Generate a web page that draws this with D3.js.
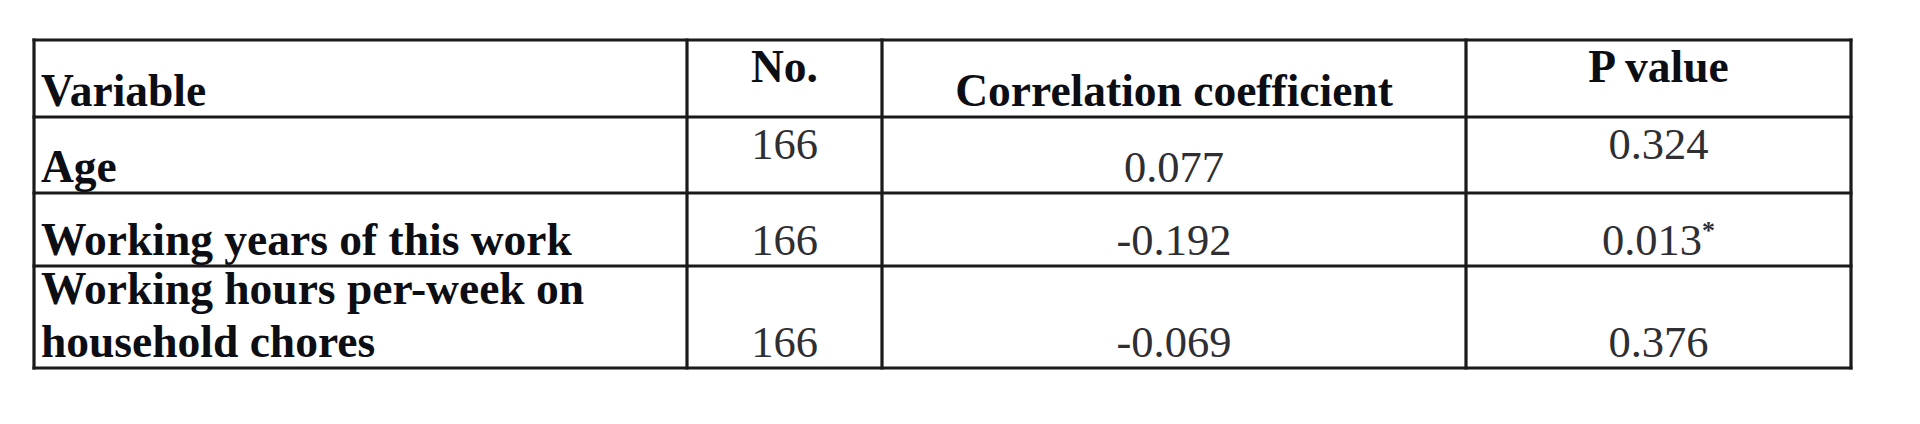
<!DOCTYPE html>
<html>
<head>
<meta charset="utf-8">
<script src="https://cdn.jsdelivr.net/npm/d3@7"></script>
<style>
  body { margin: 0; background: #fff; }
  text { font-family: "Liberation Serif", "DejaVu Serif", serif; }
</style>
</head>
<body>
<div id="myChart"></div>
<script>
// table contents
let headers = ["Variable", "No.", "Correlation coefficient", "P value"];
let variables = [["Age"], ["Working years of this work"], ["Working hours per-week on", "household chores"]];
let counts = ["166", "166", "166"];
let coefficients = ["0.077", "-0.192", "-0.069"];
let pValues = ["0.324", "0.013", "0.376"];
let significant = [false, true, false];

let width = 1920, height = 424;

let svg = d3.select("#myChart").append("svg")
  .attr("width", width)
  .attr("height", height);

// column edges and row edges of the grid
let colEdges = [34, 687, 882, 1466, 1851];
let rowEdges = [40, 117, 193, 266, 368];

let x = d3.scaleOrdinal().domain(d3.range(colEdges.length)).range(colEdges);
let y = d3.scaleOrdinal().domain(d3.range(rowEdges.length)).range(rowEdges);

// where text sits in each cell: "t" top, "b" bottom
let valign = [
  ["b", "t", "b", "t"],
  ["b", "t", "b", "t"],
  ["b", "b", "b", "b"],
  ["b", "b", "b", "b"]
];

let lineHeight = 53;

// build cells
let cells = [];
headers.forEach((h, c) => cells.push({ r: 0, c: c, lines: [h], bold: true }));
variables.forEach((v, i) => {
  cells.push({ r: i + 1, c: 0, lines: v, bold: true });
  cells.push({ r: i + 1, c: 1, lines: [counts[i]], bold: false });
  cells.push({ r: i + 1, c: 2, lines: [coefficients[i]], bold: false });
  cells.push({ r: i + 1, c: 3, lines: [pValues[i]], bold: false, star: significant[i] });
});

let texts = svg.selectAll("text.cell")
  .data(cells)
  .enter()
  .append("text")
  .attr("class", "cell")
  .attr("font-weight", d => d.bold ? "bold" : "normal")
  .attr("font-size", d => d.bold ? 45.5 : 44.5)
  .attr("fill", d => d.bold ? "#0d0d14" : "#2e2e33")
  .attr("text-anchor", d => d.c === 0 ? "start" : "middle")
  .attr("x", d => d.c === 0 ? x(0) + 7 : (x(d.c) + x(d.c + 1)) / 2)
  .attr("y", d => {
    let n = d.lines.length;
    if (valign[d.r][d.c] === "t") return y(d.r) + 42;
    return y(d.r + 1) - 11 - (n - 1) * lineHeight;
  });

texts.each(function (d) {
  let t = d3.select(this);
  let x0 = t.attr("x");
  d.lines.forEach((line, i) => {
    t.append("tspan")
      .attr("x", x0)
      .attr("dy", i === 0 ? 0 : lineHeight)
      .text(line);
  });
  if (d.star) {
    t.append("tspan")
      .attr("font-size", 26)
      .attr("font-weight", "bold")
      .attr("dy", -16)
      .text("*");
  }
});

// grid lines
svg.selectAll("line.h")
  .data(rowEdges)
  .enter()
  .append("line")
  .attr("class", "h")
  .attr("x1", x(0) - 1.5)
  .attr("x2", x(colEdges.length - 1) + 1.5)
  .attr("y1", (d, i) => y(i))
  .attr("y2", (d, i) => y(i))
  .attr("stroke", "#1a1a1a")
  .attr("stroke-width", 3.2);

svg.selectAll("line.v")
  .data(colEdges)
  .enter()
  .append("line")
  .attr("class", "v")
  .attr("x1", (d, i) => x(i))
  .attr("x2", (d, i) => x(i))
  .attr("y1", y(0) - 1.5)
  .attr("y2", y(rowEdges.length - 1) + 1.5)
  .attr("stroke", "#1a1a1a")
  .attr("stroke-width", 3.2);
</script>
</body>
</html>
